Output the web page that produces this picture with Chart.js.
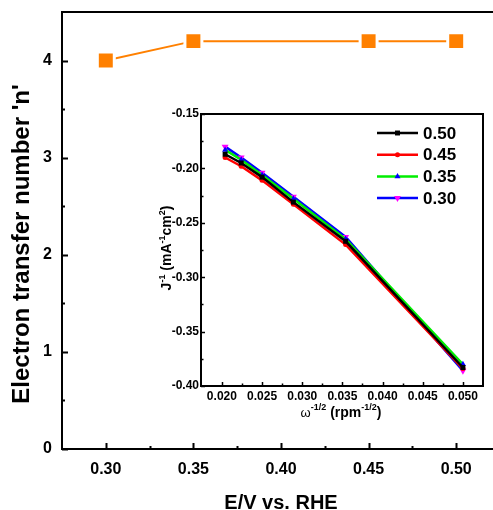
<!DOCTYPE html>
<html>
<head>
<meta charset="utf-8">
<script src="https://cdn.jsdelivr.net/npm/chart.js@4"></script>
<style>
html, body { margin: 0; padding: 0; background: #fff; }
#wrap { position: relative; width: 493px; height: 510px; overflow: hidden; }
#main { position: absolute; left: 0; top: 0; }
#inset { position: absolute; left: 150px; top: 100px; }
</style>
</head>
<body>
<div id="wrap">
	<canvas id="main" width="500" height="510"></canvas>
	<canvas id="inset" width="343" height="330"></canvas>
</div>
<script>
// n vs potential
const potential = [0.30, 0.35, 0.45, 0.50];
const electronN = [4.0, 4.2, 4.2, 4.2];
const mainXTicks = [0.30, 0.35, 0.40, 0.45, 0.50];
const mainYTicks = [0, 1, 2, 3, 4];

// Koutecky-Levich lines, one per potential
const omega = [0.0204, 0.0224, 0.0250, 0.0289, 0.0354, 0.0500];
const jInv050 = [-0.187, -0.195, -0.208, -0.231, -0.267, -0.383];
const jInv045 = [-0.190, -0.198, -0.211, -0.233, -0.270, -0.384];
const jInv035 = [-0.183, -0.192, -0.206, -0.228, -0.265, -0.380];
const jInv030 = [-0.180, -0.190, -0.204, -0.226, -0.263, -0.386];
const klLabels = ["0.50", "0.45", "0.35", "0.30"];
const insetXTicks = [0.020, 0.025, 0.030, 0.035, 0.040, 0.045, 0.050];
const insetYTicks = [-0.40, -0.35, -0.30, -0.25, -0.20, -0.15];

const FONT = "'Liberation Sans', Arial, Helvetica, sans-serif";
const ORANGE = "#ff8000";

function midpoints (ticks) {
	const out = [];
	for (let i = 1; i < ticks.length; i++) {
		out.push((ticks[i - 1] + ticks[i]) / 2);
	}
	return out;
}

function toPoints (xs, ys) {
	return xs.map((x, i) => ({ x: x, y: ys[i] }));
}

// keep the plot box where the layout puts it: no extra room for edge labels
function fixWidth (w) {
	return (s) => {
		s.width = w;
		s.paddingTop = s.paddingBottom = s.paddingLeft = s.paddingRight = 0;
	};
}
function fixHeight (h) {
	return (s) => {
		s.height = h;
		s.paddingTop = s.paddingBottom = s.paddingLeft = s.paddingRight = 0;
	};
}

// text runs with superscripts: [text, font, rise]
function drawRich (ctx, runs, x, y, rotation) {
	ctx.save();
	ctx.translate(x, y);
	ctx.rotate(rotation || 0);
	ctx.textBaseline = "alphabetic";
	ctx.textAlign = "left";
	let total = 0;
	runs.forEach((r) => {
		ctx.font = r[1];
		total += ctx.measureText(r[0]).width;
	});
	let cx = -total / 2;
	runs.forEach((r) => {
		ctx.font = r[1];
		ctx.fillText(r[0], cx, -r[2]);
		cx += ctx.measureText(r[0]).width;
	});
	ctx.restore();
}

// closed box with inward major/minor ticks on bottom and left, plus titles
const framePlugin = {
	id: "frame",
	afterDraw (chart, args, opts) {
		const { ctx, chartArea: a } = chart;
		const xs = chart.scales.x;
		const ys = chart.scales.y;
		ctx.save();
		ctx.strokeStyle = "#000";
		ctx.fillStyle = "#000";
		ctx.lineWidth = opts.lineWidth;
		ctx.strokeRect(a.left, a.top, a.right - a.left, a.bottom - a.top);
		ctx.lineWidth = opts.tickWidth;
		ctx.beginPath();
		const xMarks = (vals, len) => vals.forEach((v) => {
			const px = Math.round(xs.getPixelForValue(v)) + 0.5;
			ctx.moveTo(px, a.bottom);
			ctx.lineTo(px, a.bottom - len);
		});
		const yMarks = (vals, len) => vals.forEach((v) => {
			const py = Math.round(ys.getPixelForValue(v)) + 0.5;
			ctx.moveTo(a.left, py);
			ctx.lineTo(a.left + len, py);
		});
		xMarks(opts.xMajor, opts.major);
		xMarks(midpoints(opts.xMajor), opts.minor);
		yMarks(opts.yMajor, opts.major);
		yMarks(midpoints(opts.yMajor), opts.minor);
		ctx.stroke();
		(opts.titles || []).forEach((t) => drawRich(ctx, t.runs, t.x, t.y, t.rotation));
		ctx.restore();
	}
};

// legend drawn inside the inset plot area
const klLegend = {
	id: "klLegend",
	afterDraw (chart, args, opts) {
		const { ctx } = chart;
		ctx.save();
		chart.data.datasets.forEach((ds, i) => {
			const y = opts.top + i * opts.step;
			ctx.strokeStyle = ds.borderColor;
			ctx.lineWidth = ds.borderWidth;
			ctx.beginPath();
			ctx.moveTo(opts.left, y);
			ctx.lineTo(opts.left + opts.width, y);
			ctx.stroke();
			ctx.fillStyle = ds.pointBackgroundColor;
			ctx.strokeStyle = ds.pointBackgroundColor;
			Chart.helpers.drawPoint(ctx, {
				pointStyle: ds.pointStyle,
				radius: ds.pointRadius,
				rotation: ds.pointRotation || 0,
				borderWidth: 0
			}, opts.left + opts.width / 2, y);
			ctx.fillStyle = "#000";
			ctx.font = `bold 17px ${FONT}`;
			ctx.textBaseline = "middle";
			ctx.textAlign = "left";
			ctx.fillText(ds.label, opts.left + opts.width + 5, y + 1);
		});
		ctx.restore();
	}
};

new Chart(document.getElementById("main"), {
	type: "line",
	data: {
		datasets: [{
			data: toPoints(potential, electronN),
			borderColor: ORANGE,
			borderWidth: 2,
			pointStyle: "rect",
			pointRadius: 12,
			pointHoverRadius: 12,
			pointBackgroundColor: ORANGE,
			pointBorderColor: "#fff",
			pointBorderWidth: 3
		}]
	},
	options: {
		responsive: false,
		animation: false,
		events: [],
		layout: { autoPadding: false, padding: { top: 12, right: 0, left: 0, bottom: 0 } },
		plugins: {
			legend: { display: false },
			tooltip: { enabled: false },
			frame: {
				lineWidth: 2,
				tickWidth: 2,
				major: 6,
				minor: 3,
				xMajor: mainXTicks,
				yMajor: mainYTicks,
				titles: [
					{ runs: [["Electron transfer number 'n'", `bold 24px ${FONT}`, 0]], x: 29, y: 244, rotation: -Math.PI / 2 },
					{ runs: [["E/V vs. RHE", `bold 20px ${FONT}`, 0]], x: 281, y: 509, rotation: 0 }
				]
			}
		},
		scales: {
			x: {
				type: "linear",
				min: 0.275,
				max: 0.525,
				afterFit: fixHeight(61),
				afterBuildTicks: (s) => { s.ticks = mainXTicks.map((v) => ({ value: v })); },
				grid: { display: false, drawTicks: false },
				border: { display: false },
				ticks: {
					padding: 11,
					color: "#000",
					font: { family: FONT, size: 16, weight: "bold" },
					callback: (v) => Number(v).toFixed(2)
				}
			},
			y: {
				type: "linear",
				min: 0,
				max: 4.5,
				afterFit: fixWidth(62),
				afterBuildTicks: (s) => { s.ticks = mainYTicks.map((v) => ({ value: v })); },
				grid: { display: false, drawTicks: false },
				border: { display: false },
				ticks: {
					padding: 10,
					color: "#000",
					font: { family: FONT, size: 16, weight: "bold" },
					callback: (v) => String(v)
				}
			}
		}
	},
	plugins: [framePlugin]
});

function klSeries (label, values, color, markerColor, style, radius, rotation) {
	return {
		label: label,
		data: toPoints(omega, values),
		borderColor: color,
		borderWidth: 2.5,
		pointStyle: style,
		pointRadius: radius,
		pointRotation: rotation,
		pointBackgroundColor: markerColor,
		pointBorderColor: markerColor,
		pointBorderWidth: 0
	};
}

new Chart(document.getElementById("inset"), {
	type: "line",
	data: {
		datasets: [
			klSeries(klLabels[0], jInv050, "#000000", "#000000", "rect", 3.5, 0),
			klSeries(klLabels[1], jInv045, "#ff0000", "#ff0000", "circle", 2.5, 0),
			klSeries(klLabels[2], jInv035, "#00ee00", "#0000ff", "triangle", 3.5, 0),
			klSeries(klLabels[3], jInv030, "#0000ff", "#ff00ff", "triangle", 4, 180)
		]
	},
	options: {
		responsive: false,
		animation: false,
		events: [],
		layout: { autoPadding: false, padding: { top: 14, right: 10, left: 0, bottom: 0 } },
		plugins: {
			legend: { display: false },
			tooltip: { enabled: false },
			klLegend: { left: 227, width: 41, top: 33, step: 21.7 },
			frame: {
				lineWidth: 2,
				tickWidth: 1.5,
				major: 4,
				minor: 2.5,
				xMajor: insetXTicks,
				yMajor: insetYTicks,
				titles: [
					{
						runs: [
							["J", `bold 14px ${FONT}`, 0],
							["-1", `bold 9px ${FONT}`, 6],
							[" (mA", `bold 14px ${FONT}`, 0],
							["-1", `bold 9px ${FONT}`, 6],
							["cm", `bold 14px ${FONT}`, 0],
							["2", `bold 9px ${FONT}`, 6],
							[")", `bold 14px ${FONT}`, 0]
						],
						x: 21, y: 148, rotation: -Math.PI / 2
					},
					{
						runs: [
							["\u03c9", `13px ${FONT}`, 0],
							["-1/2", `bold 9px ${FONT}`, 7],
							[" (rpm", `bold 14px ${FONT}`, 0],
							["-1/2", `bold 9px ${FONT}`, 7],
							[")", `bold 14px ${FONT}`, 0]
						],
						x: 191, y: 317, rotation: 0
					}
				]
			}
		},
		scales: {
			x: {
				type: "linear",
				min: 0.0174,
				max: 0.0525,
				afterFit: fixHeight(44),
				afterBuildTicks: (s) => { s.ticks = insetXTicks.map((v) => ({ value: v })); },
				grid: { display: false, drawTicks: false },
				border: { display: false },
				ticks: {
					padding: 3,
					color: "#000",
					font: { family: FONT, size: 12, weight: "bold" },
					callback: (v) => Number(v).toFixed(3)
				}
			},
			y: {
				type: "linear",
				min: -0.40,
				max: -0.15,
				afterFit: fixWidth(51),
				afterBuildTicks: (s) => { s.ticks = insetYTicks.map((v) => ({ value: v })); },
				grid: { display: false, drawTicks: false },
				border: { display: false },
				ticks: {
					padding: 2,
					color: "#000",
					font: { family: FONT, size: 12, weight: "bold" },
					callback: (v) => Number(v).toFixed(2)
				}
			}
		}
	},
	plugins: [framePlugin, klLegend]
});
</script>
</body>
</html>
